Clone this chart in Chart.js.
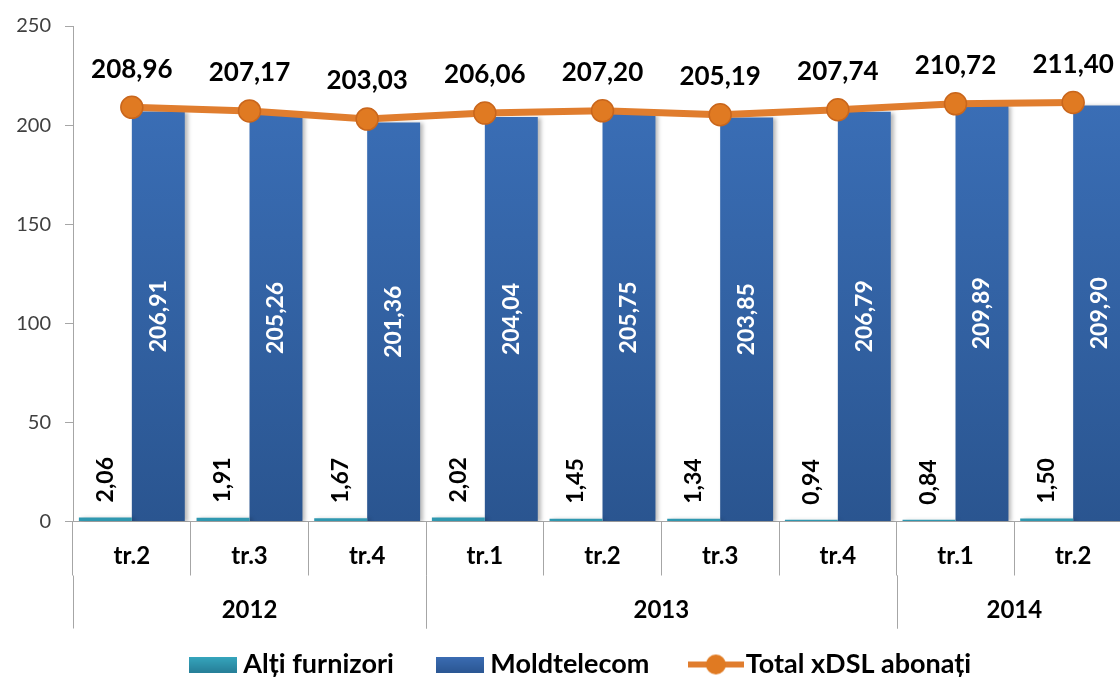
<!DOCTYPE html>
<html>
<head>
<meta charset="utf-8">
<script src="https://cdn.jsdelivr.net/npm/chart.js@4.4.1/dist/chart.umd.min.js"></script>
<style>
  html, body { margin: 0; padding: 0; background: #fff; overflow: hidden; }
  #wrap { width: 1120px; height: 677px; overflow: hidden; }
</style>
</head>
<body>
<div id="wrap"><canvas id="xdsl" width="1150" height="677"></canvas></div>
<script>
// quarters on the first axis row, years grouped underneath
const quarters = ['tr.2', 'tr.3', 'tr.4', 'tr.1', 'tr.2', 'tr.3', 'tr.4', 'tr.1', 'tr.2'];
const yearLabels = ['2012', '2013', '2014'];
const yearStart = [0, 3, 7];
const yearEnd = [2, 6, 8];

// subscribers, thousands
const altiFurnizori = [2.06, 1.91, 1.67, 2.02, 1.45, 1.34, 0.94, 0.84, 1.50];
const moldtelecom = [206.91, 205.26, 201.36, 204.04, 205.75, 203.85, 206.79, 209.89, 209.90];
const totalXdsl = [208.96, 207.17, 203.03, 206.06, 207.20, 205.19, 207.74, 210.72, 211.40];

const yMax = 250;
const yStep = 50;

const FONT = 'Lato';
const ORANGE = '#E07D2E';
const fmt = v => v.toFixed(2).replace('.', ',');

function vGradient(ctx, top, bottom, c1, c2) {
    const g = ctx.createLinearGradient(0, top, 0, bottom);
    g.addColorStop(0, c1);
    g.addColorStop(1, c2);
    return g;
}

// small pictures for the legend
function legendBox(c1, c2) {
    const cv = document.createElement('canvas');
    cv.width = 48; cv.height = 16;
    const c = cv.getContext('2d');
    c.fillStyle = vGradient(c, 0, 16, c1, c2);
    c.fillRect(0, 0, 48, 16);
    return cv;
}
function legendLine() {
    const cv = document.createElement('canvas');
    cv.width = 56; cv.height = 22;
    const c = cv.getContext('2d');
    c.strokeStyle = ORANGE;
    c.lineWidth = 6;
    c.beginPath(); c.moveTo(0, 11); c.lineTo(56, 11); c.stroke();
    c.fillStyle = '#E07A22';
    c.beginPath(); c.arc(28, 11, 10, 0, Math.PI * 2); c.fill();
    return cv;
}
const legendIcons = [
    legendBox('#36A7BE', '#267F98'),
    legendBox('#3B6DB4', '#2B5793'),
    legendLine()
];

// soft shadow behind the bars
const barShadow = {
    id: 'barShadow',
    beforeDatasetDraw(chart, args) {
        if (args.meta.type !== 'bar') return;
        const ctx = chart.ctx;
        ctx.save();
        ctx.shadowColor = 'rgba(0,0,0,0.28)';
        ctx.shadowBlur = 4;
        ctx.shadowOffsetX = 3;
        ctx.shadowOffsetY = 1;
    },
    afterDatasetDraw(chart, args) {
        if (args.meta.type !== 'bar') return;
        chart.ctx.restore();
    }
};

// numbers on the bars and above the total line
const valueLabels = {
    id: 'valueLabels',
    afterDatasetsDraw(chart) {
        const ctx = chart.ctx;
        ctx.save();
        ctx.textBaseline = 'middle';

        ctx.font = 'bold 23px ' + FONT;
        ctx.fillStyle = '#000';
        ctx.textAlign = 'left';
        chart.getDatasetMeta(0).data.forEach((bar, i) => {
            ctx.save();
            ctx.translate(bar.x, bar.y - 15);
            ctx.rotate(-Math.PI / 2);
            ctx.fillText(fmt(altiFurnizori[i]), 0, 0);
            ctx.restore();
        });

        ctx.fillStyle = '#fff';
        ctx.textAlign = 'center';
        chart.getDatasetMeta(1).data.forEach((bar, i) => {
            ctx.save();
            ctx.translate(bar.x, (bar.y + bar.base) / 2);
            ctx.rotate(-Math.PI / 2);
            ctx.fillText(fmt(moldtelecom[i]), 0, 0);
            ctx.restore();
        });

        ctx.font = 'bold 26px ' + FONT;
        ctx.fillStyle = '#000';
        chart.getDatasetMeta(2).data.forEach((pt, i) => {
            ctx.fillText(fmt(totalXdsl[i]), pt.x, pt.y - 38);
        });
        ctx.restore();
    }
};

// second row of the category axis: years with their separators
const yearRow = {
    id: 'yearRow',
    afterDraw(chart) {
        const x = chart.scales.x;
        const ctx = chart.ctx;
        const step = x.getPixelForValue(1) - x.getPixelForValue(0);
        const top = x.top + 54;
        const bottom = x.top + 107;
        ctx.save();
        ctx.strokeStyle = '#A6A6A6';
        ctx.lineWidth = 1;
        ctx.font = 'bold 24px ' + FONT;
        ctx.fillStyle = '#000';
        ctx.textAlign = 'center';
        ctx.textBaseline = 'middle';
        yearLabels.forEach((label, k) => {
            const first = x.getPixelForValue(yearStart[k]);
            const last = x.getPixelForValue(yearEnd[k]);
            const edges = [first - step / 2, last + step / 2];
            edges.forEach(ex => {
                const px = Math.round(ex) + 0.5;
                ctx.beginPath(); ctx.moveTo(px, top); ctx.lineTo(px, bottom); ctx.stroke();
            });
            ctx.fillText(label, (first + last) / 2, x.top + 89);
        });
        ctx.restore();
    }
};

// the legend sits under the year row, a little right of the canvas centre
const legendPlace = {
    id: 'legendPlace',
    afterLayout(chart) {
        chart.legend.left = 36;
        chart.legend.top = 601;
    }
};

const ctx = document.getElementById('xdsl').getContext('2d');
new Chart(ctx, {
    type: 'bar',
    data: {
        labels: quarters,
        datasets: [
            {
                label: 'Alți furnizori',
                data: altiFurnizori,
                backgroundColor: '#2F98B0',
                order: 1,
                categoryPercentage: 0.9,
                barPercentage: 1.0
            },
            {
                label: 'Moldtelecom',
                data: moldtelecom,
                backgroundColor: (c) => {
                    const area = c.chart.chartArea;
                    if (!area) return '#3366AA';
                    return vGradient(c.chart.ctx, c.chart.scales.y.getPixelForValue(212), area.bottom, '#3A6EB6', '#2A5590');
                },
                order: 1,
                categoryPercentage: 0.9,
                barPercentage: 1.0
            },
            {
                type: 'line',
                label: 'Total xDSL abonați',
                data: totalXdsl,
                borderColor: ORANGE,
                borderWidth: 7,
                pointRadius: 11,
                pointBackgroundColor: '#E07A22',
                pointBorderColor: '#C9661C',
                pointBorderWidth: 1.5,
                tension: 0,
                order: 0
            }
        ]
    },
    options: {
        responsive: false,
        animation: false,
        layout: { padding: { top: 23, left: 0, right: 18, bottom: 0 } },
        plugins: {
            tooltip: { enabled: false },
            legend: {
                position: 'bottom',
                labels: {
                    usePointStyle: true,
                    pointStyleWidth: 33,
                    boxHeight: 22,
                    padding: 50,
                    color: '#000',
                    font: { family: FONT, size: 27, weight: 'bold' },
                    generateLabels: (chart) => chart.data.datasets.map((ds, i) => ({
                        text: ds.label,
                        pointStyle: legendIcons[i],
                        fillStyle: 'transparent',
                        strokeStyle: 'transparent',
                        lineWidth: 0,
                        datasetIndex: i
                    }))
                }
            }
        },
        scales: {
            x: {
                grid: { drawOnChartArea: false, tickLength: 54, color: '#A6A6A6', offset: true },
                border: { color: '#A6A6A6' },
                ticks: { color: '#000', padding: -34, font: { family: FONT, size: 24, weight: 'bold' } },
                // legend takes 27 + 50 + 10 px, the rest below the plot goes to this axis
                afterFit: (s) => { s.height = 677 - 521.5 - 87; }
            },
            y: {
                min: 0,
                max: yMax,
                ticks: { stepSize: yStep, color: '#404040', padding: 14, font: { family: FONT, size: 20 } },
                grid: { drawOnChartArea: false, tickLength: 8, color: '#A6A6A6' },
                border: { color: '#A6A6A6' },
                afterFit: (s) => { s.width = 73; }
            }
        }
    },
    plugins: [barShadow, valueLabels, yearRow, legendPlace]
});
</script>
</body>
</html>
